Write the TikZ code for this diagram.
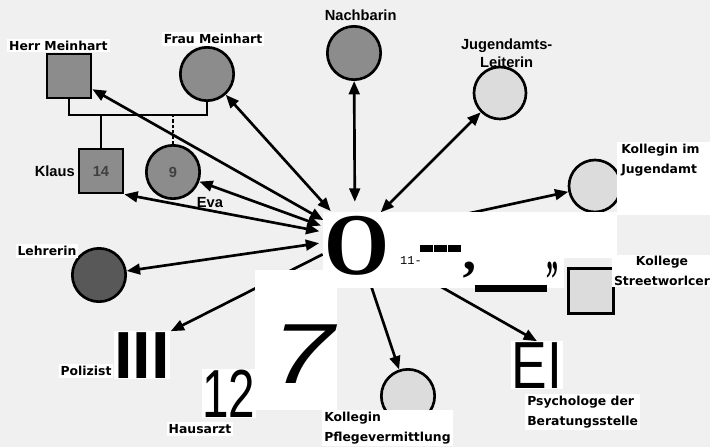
\documentclass[tikz,border=0pt]{standalone}
\usepackage{fontspec}
\newfontfamily\crispfont{DejaVu Sans}
\newfontfamily\scanfont{Liberation Sans}
\newfontfamily\ocrserif{Liberation Serif}
\newfontfamily\ocrmono{Liberation Mono}
\usetikzlibrary{arrows.meta, positioning, backgrounds}
\definecolor{paper}{HTML}{F0F0F0}
\definecolor{person}{HTML}{8C8C8C}
\definecolor{teacher}{HTML}{585858}
\definecolor{official}{HTML}{DCDCDC}
\tikzset{
    base/.style={draw, line width=2pt, inner sep=0pt, font=\scanfont\bfseries\fontsize{11}{13}\selectfont, text=black!75},
    female/.style={base, circle, minimum size=40pt, fill=person},
    male/.style={base, rectangle, minimum size=33pt, fill=person},
    hub/.style={circle, minimum size=54pt, inner sep=0pt},
    lbl/.style={font=\crispfont\bfseries\fontsize{9.3}{14.5}\selectfont, fill=white, inner sep=1.5pt, align=center},
    scanlbl/.style={font=\scanfont\bfseries\fontsize{11}{14}\selectfont, inner sep=1pt, align=center},
    glyph/.style={fill=white, inner sep=0.5pt, anchor=base},
    patch/.style={fill=white},
    kin/.style={line width=1.6pt},
    arrow/.style={line width=2pt, -{Triangle[length=10pt,width=8pt]}},
    twoway/.style={line width=2pt, {Triangle[length=10pt,width=8pt]}-{Triangle[length=10pt,width=8pt]}}
}

\begin{document}
\begin{tikzpicture}[x=0.75pt, y=-0.75pt]
    \useasboundingbox (0,0) rectangle (710,447);

    % persons
    \node[male] (herr) at (69,76) {};
    \node[female] (frau) at (207,74) {};
    \node[male] (klaus) at (101,171) {14};
    \node[female] (eva) at (173,172) {9};
    \node[female] (nachbarin) at (354,53) {};
    \node[female, fill=official, minimum size=39pt] (leiterin) at (500,93) {};
    \node[female, fill=official, minimum size=39pt] (kollegin) at (595,186) {};
    \node[female, fill=teacher] (lehrerin) at (99,275) {};
    \node[female, fill=official] (pflege) at (408,396) {};
    \node[male, fill=official, minimum size=34pt] (street) at (591,291) {};
    \node[hub] (ego) at (355,238) {};

    % family lines
    \coordinate (marriage) at (140,115);
    \draw[kin] (herr.south) |- (marriage) -| (frau.south);
    \draw[kin] (klaus.north) -- (klaus.north |- marriage);
    \draw[kin, dash pattern=on 2.5pt off 1.5pt] (eva.north) -- (eva.north |- marriage);

    % scanner patches
    \fill[patch] (323,212) rectangle (617,258);
    \fill[patch] (323,258) rectangle (564,288);
    \fill[patch] (255,270) rectangle (337,410);
    \fill[patch] (617,142) rectangle (710,215);

    % ocr glyphs
    \node[glyph, font=\scanfont\bfseries\fontsize{50}{50}\selectfont] (polizist) at (142,378) {III};
    \node[glyph, font=\scanfont\fontsize{51}{51}\selectfont] (hausarzt) at (229,417) {\scalebox{0.7}[1]{12}};
    \node[glyph, font=\scanfont\fontsize{50}{50}\selectfont] (psych) at (537,388) {\scalebox{0.8}[1]{EI}};
    \node[glyph, font=\ocrserif\bfseries\fontsize{66}{66}\selectfont, fill=none] (bigO) at (357,274) {\scalebox{0.95}[1]{O}};
    \node[glyph, font=\ocrmono\fontsize{9}{9}\selectfont, fill=none] (ones) at (411,264) {11-};
    \foreach \x in {420,434,448}
        \fill (\x,245) rectangle ++(13,7);
    \node[font=\ocrserif\bfseries\fontsize{40}{40}\selectfont, inner sep=0pt, anchor=north] (tick) at (469,262) {’};
    \fill (475,285) rectangle (547,292);
    \node[font=\ocrserif\bfseries\fontsize{40}{40}\selectfont, inner sep=0pt, anchor=north] (ticks) at (552,262) {\scalebox{0.45}[1]{”}};
    \node[glyph, font=\scanfont\itshape\fontsize{64}{64}\selectfont, fill=none] (seven) at (303,383) {\scalebox{1.3}[1]{7}};

    % labels
    \node[lbl, above=0pt of herr, xshift=-8pt] (herrlbl) {Herr Meinhart};
    \node[lbl, above=0pt of frau, xshift=4.5pt] (fraulbl) {Frau Meinhart};
    \node[scanlbl, left=1pt of klaus] (klauslbl) {Klaus};
    \node[scanlbl] (evalbl) at (210,203) {Eva};
    \node[scanlbl, above=2pt of nachbarin, xshift=5pt] (nachbarinlbl) {Nachbarin};
    \node[scanlbl, above=-3pt of leiterin, xshift=5pt] (leiterinlbl) {Jugendamts-\\Leiterin};
    \node[lbl, anchor=west, align=left] (kolleginlbl) at (619,160) {Kollegin im\\Jugendamt};
    \node[lbl] (lehrerinlbl) at (47,251) {Lehrerin};
    \node[lbl] (polizistlbl) at (86,371) {Polizist};
    \node[lbl] (hausarztlbl) at (200,429) {Hausarzt};
    \node[lbl, anchor=west, align=left] (pflegelbl) at (322,428) {Kollegin\\Pflegevermittlung};
    \node[lbl, anchor=west, align=left] (psychlbl) at (525,412) {Psychologe der\\Beratungsstelle};
    \node[lbl] (streetlbl) at (662,271) {Kollege\\Streetworlcer};

    % connections
    \begin{scope}[on background layer]
        \fill[paper] (0,0) rectangle (710,447);
        \draw[twoway] (ego) -- (herr);
        \draw[twoway] (ego) -- (frau);
        \draw[twoway] (ego) -- (klaus.south east);
        \draw[twoway] (ego) -- (eva);
        \draw[twoway] (ego) -- (nachbarin);
        \draw[twoway] (ego) -- (leiterin);
        \draw[twoway] (ego) -- (lehrerin);
        \draw[arrow] (ego) -- (kollegin);
        \draw[arrow] (ego) -- (polizist.north east);
        \draw[arrow] (ego) -- (pflege);
        \draw[arrow] (ego) -- (psych.north);
    \end{scope}
\end{tikzpicture}
\end{document}
